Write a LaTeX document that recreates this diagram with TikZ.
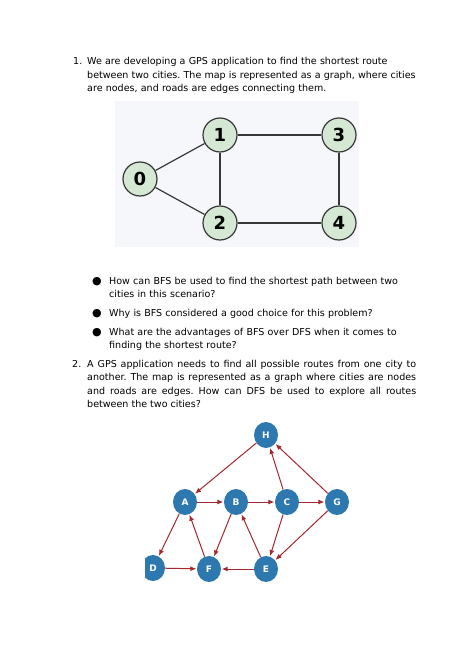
\documentclass[tikz,border=0pt]{standalone}
\usepackage{fontspec}
\setmainfont{DejaVu Sans}
\usetikzlibrary{
  arrows.meta,
  positioning,
  shapes.geometric
}
\frenchspacing
\definecolor{gpsPanel}{RGB}{245,247,250}
\definecolor{gpsCity}{RGB}{213,232,212}
\definecolor{gpsLine}{RGB}{55,55,55}
\definecolor{dfsTown}{RGB}{44,120,175}
\definecolor{dfsRoute}{RGB}{165,40,45}
\tikzset{
  qtext/.style={
    anchor=base west,
    inner sep=0pt,
    text width=#1,
    align=left,
    font=\fontsize{9.55}{13.5}\selectfont
  },
  qtext/.default=345pt,
  qmark/.style={
    anchor=base west,
    inner sep=0pt,
    font=\fontsize{9.55}{13.5}\selectfont
  },
  dotmark/.style={
    anchor=base,
    inner sep=0pt,
    font=\fontsize{11}{13.5}\selectfont
  },
  city/.style={
    circle,
    draw=gpsLine,
    line width=1.2pt,
    fill=gpsCity,
    minimum size=34pt,
    inner sep=0pt,
    font=\fontsize{18}{20}\selectfont\bfseries
  },
  road/.style={
    draw=gpsLine,
    line width=1.2pt
  },
  town/.style={
    ellipse,
    fill=dfsTown,
    minimum width=24pt,
    minimum height=26pt,
    inner sep=0pt,
    text=white,
    font=\fontsize{9}{10}\selectfont\bfseries
  },
  route/.style={
    -{Latex[length=6pt,width=5pt]},
    draw=dfsRoute,
    line width=1pt,
    shorten >=0.5pt
  }
}

\begin{document}
\begin{tikzpicture}[x=1pt, y=-1pt]
  \useasboundingbox[fill=white] (0,0) rectangle (474,669);

  % question 1
  \node[qmark] (n1) at (73,65) {1.};
  \node[qtext] (q1) at (87,65)
    {We are developing a GPS application to find the shortest route\\
     between two cities. The map is represented as a graph, where cities\\
     are nodes, and roads are edges connecting them.};

  \fill[gpsPanel] (115,101) rectangle (359,247);
  \node[city] (c0) at (140,179) {0};
  \node[city] (c1) at (220,135) {1};
  \node[city] (c2) at (220,223) {2};
  \node[city] (c3) at (339,135) {3};
  \node[city] (c4) at (339,223) {4};
  \draw[road] (c0) -- (c1);
  \draw[road] (c0) -- (c2);
  \draw[road] (c1) -- (c2);
  \draw[road] (c1) -- (c3);
  \draw[road] (c2) -- (c4);
  \draw[road] (c3) -- (c4);

  \node[dotmark] (d1) at (97,284.5) {●};
  \node[qtext=330pt] (b1) at (109,284)
    {How can BFS be used to find the shortest path between two\\
     cities in this scenario?};
  \node[dotmark] (d2) at (97,316.5) {●};
  \node[qtext=330pt] (b2) at (109,316)
    {Why is BFS considered a good choice for this problem?};
  \node[dotmark] (d3) at (97,335.5) {●};
  \node[qtext=330pt] (b3) at (109,335)
    {What are the advantages of BFS over DFS when it comes to\\
     finding the shortest route?};

  % question 2
  \node[qmark] (n2) at (72,367) {2.};
  \node[qtext=329pt, align=justify] (q2) at (87,367)
    {A GPS application needs to find all possible routes from one city to\linebreak
     another. The map is represented as a graph where cities are nodes\linebreak
     and roads are edges. How can DFS be used to explore all routes\linebreak
     between the two cities?};

  \begin{scope}
    \clip (145,418) rectangle (360,590);
    \node[town] (H) at (266,435) {H};
    \node[town] (A) at (185,502) {A};
    \node[town] (B) at (236,502) {B};
    \node[town] (C) at (287,502) {C};
    \node[town] (G) at (337,502) {G};
    \node[town] (D) at (153,568) {D};
    \node[town] (F) at (209,569) {F};
    \node[town] (E) at (266,569) {E};
    \draw[route] (H) -- (A);
    \draw[route] (A) -- (B);
    \draw[route] (B) -- (C);
    \draw[route] (C) -- (G);
    \draw[route] (C) -- (H);
    \draw[route] (G) -- (H);
    \draw[route] (A) -- (D);
    \draw[route] (F) -- (A);
    \draw[route] (B) -- (F);
    \draw[route] (E) -- (B);
    \draw[route] (C) -- (E);
    \draw[route] (G) -- (E);
    \draw[route] (D) -- (F);
    \draw[route] (E) -- (F);
  \end{scope}
\end{tikzpicture}
\end{document}
